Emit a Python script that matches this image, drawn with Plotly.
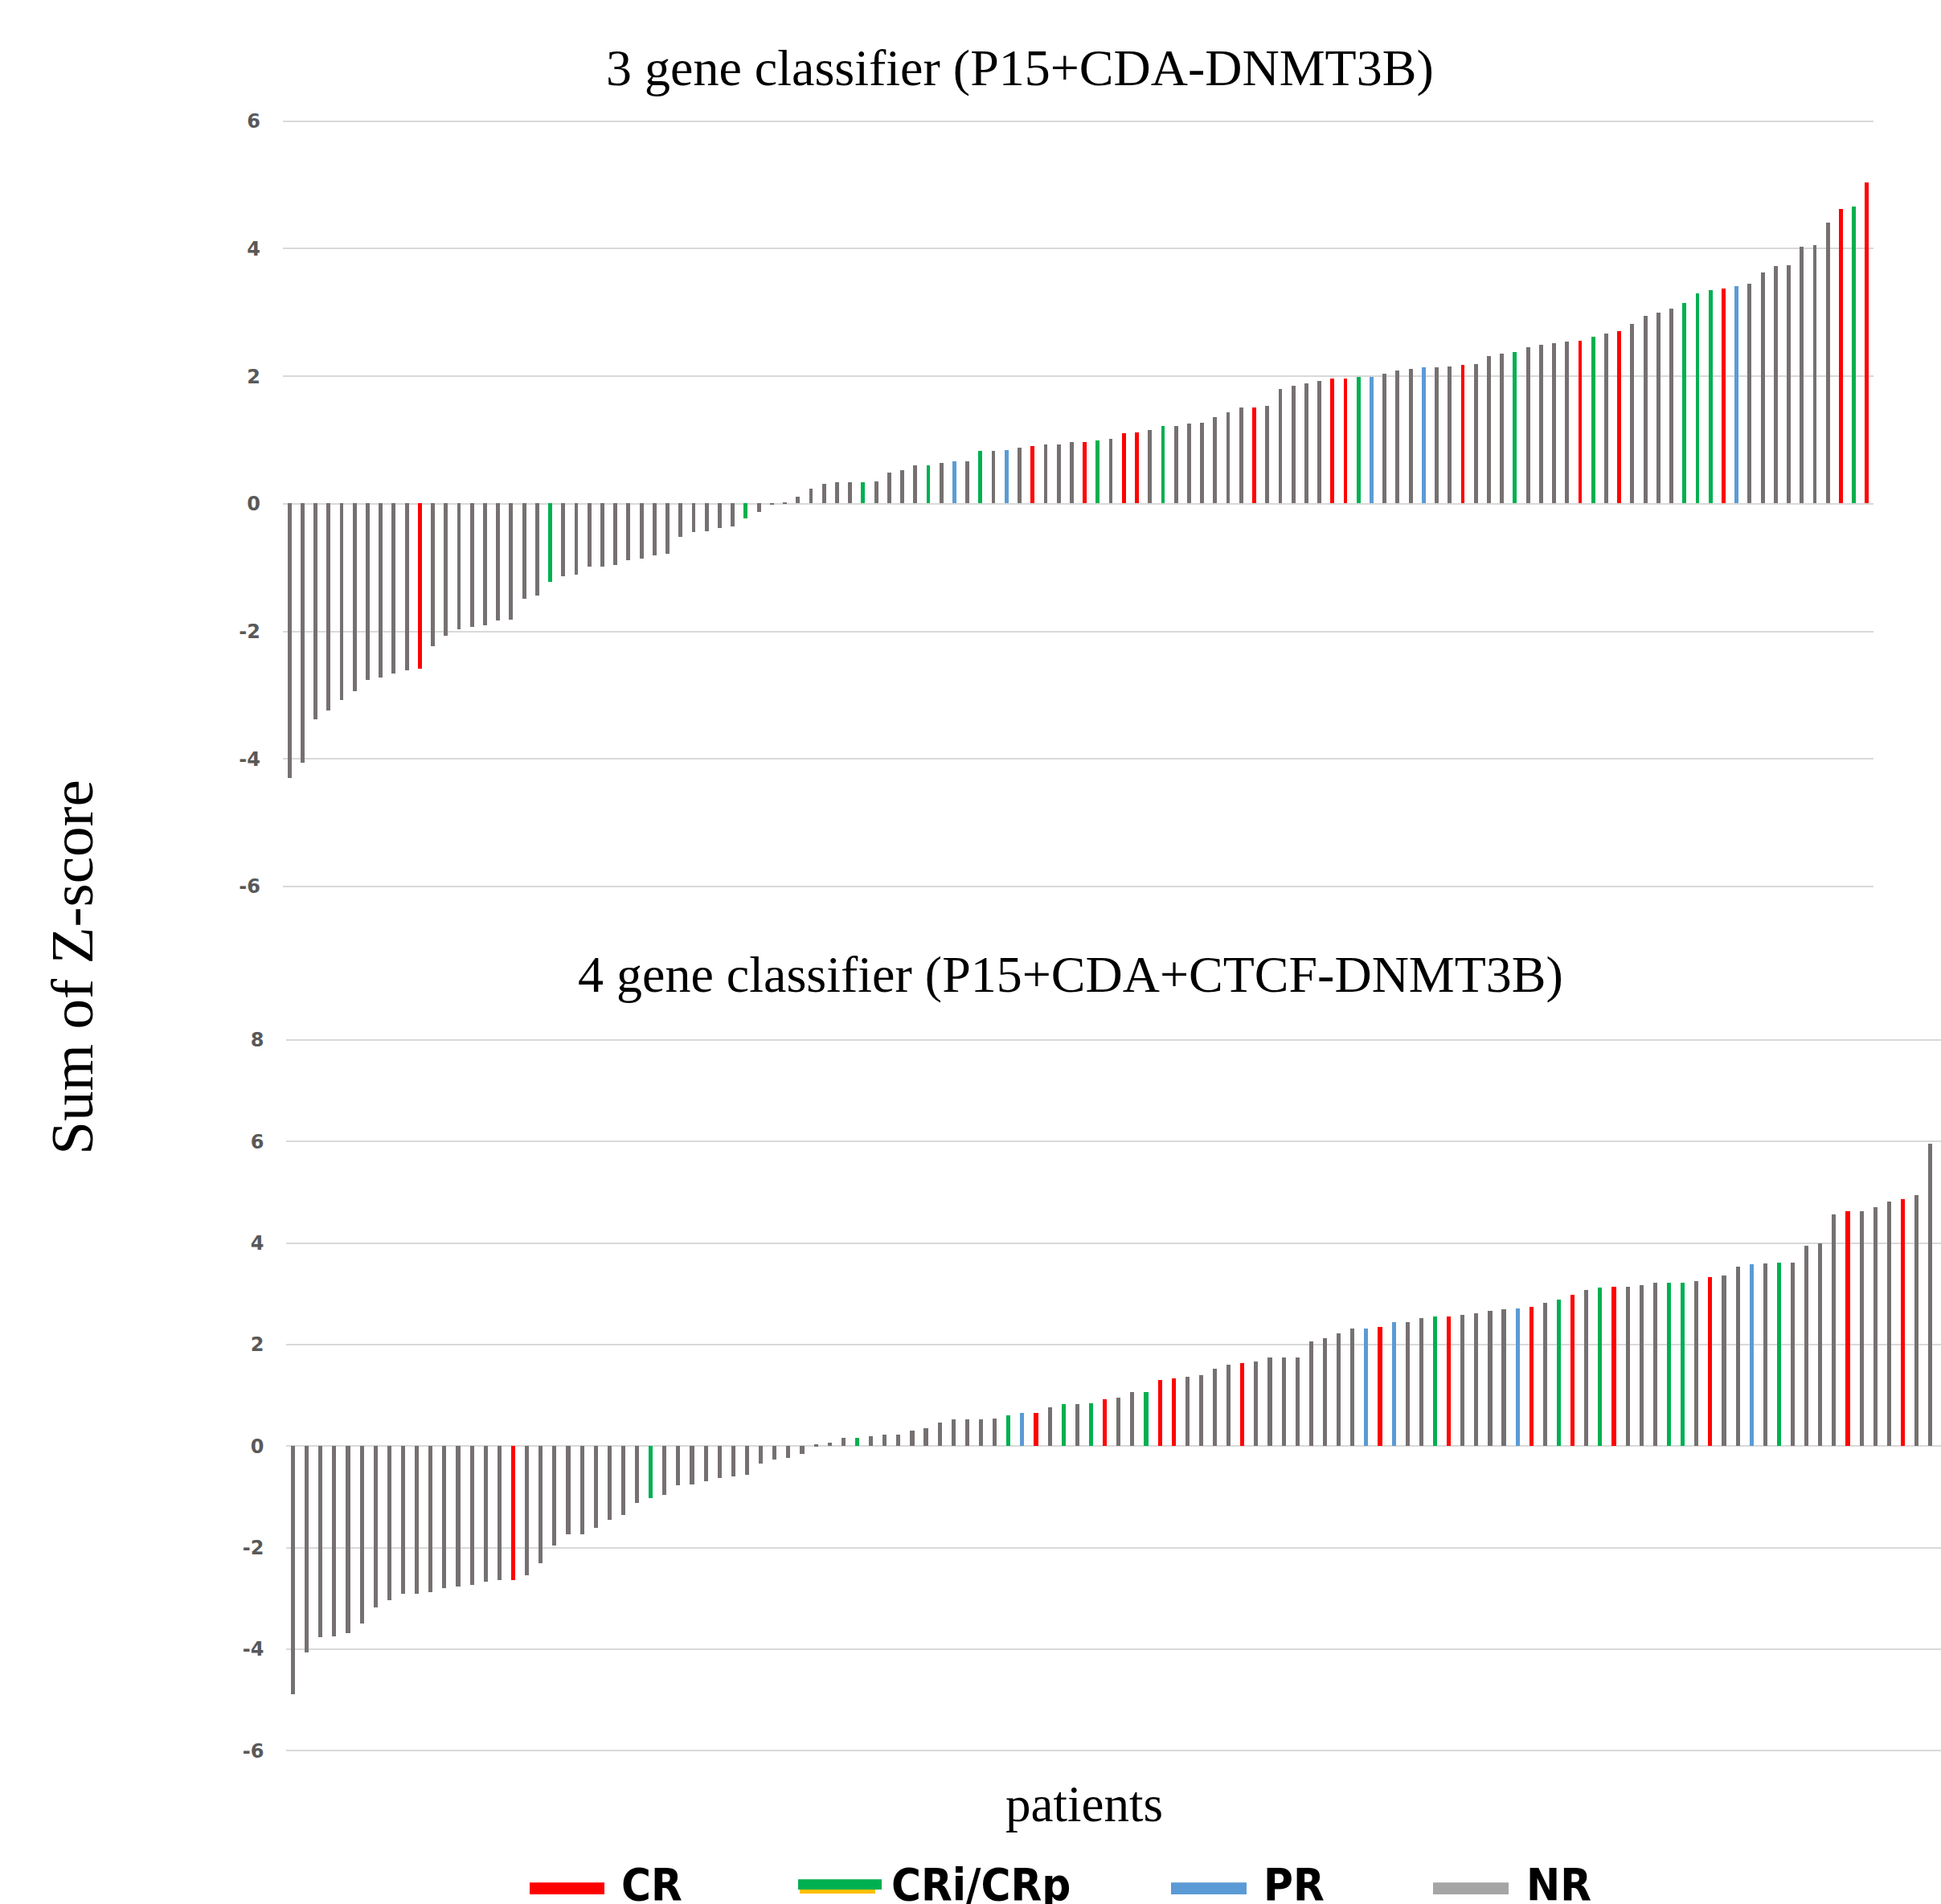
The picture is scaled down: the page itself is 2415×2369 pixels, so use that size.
import plotly.graph_objects as go

# ---------------- data ----------------
top_values = [
    -4.30, -4.06, -3.38, -3.24, -3.08, -2.94, -2.77, -2.73, -2.67, -2.62,
    -2.59, -2.24, -2.08, -1.97, -1.94, -1.91, -1.84, -1.82, -1.50, -1.44,
    -1.23, -1.14, -1.12, -0.99, -0.99, -0.97, -0.89, -0.87, -0.81, -0.79,
    -0.52, -0.45, -0.43, -0.38, -0.36, -0.23, -0.13, -0.01, 0.02, 0.11,
    0.23, 0.31, 0.33, 0.33, 0.33, 0.35, 0.48, 0.52, 0.60, 0.60,
    0.64, 0.66, 0.66, 0.82, 0.82, 0.84, 0.87, 0.90, 0.92, 0.92,
    0.96, 0.96, 0.99, 1.02, 1.10, 1.12, 1.15, 1.21, 1.21, 1.25,
    1.27, 1.35, 1.43, 1.51, 1.51, 1.53, 1.79, 1.84, 1.88, 1.92,
    1.96, 1.96, 1.99, 1.99, 2.04, 2.09, 2.11, 2.13, 2.13, 2.15,
    2.17, 2.19, 2.31, 2.35, 2.38, 2.45, 2.49, 2.51, 2.54, 2.55,
    2.61, 2.66, 2.70, 2.82, 2.94, 2.99, 3.06, 3.15, 3.30, 3.35,
    3.37, 3.41, 3.45, 3.62, 3.72, 3.74, 4.03, 4.05, 4.40, 4.62,
    4.66, 5.03,
]
top_status = (
    ["NR"] * 10 + ["CR"] + ["NR"] * 9 + ["CRi"] + ["NR"] * 14 + ["CRi"]
    + ["NR"] * 8 + ["CRi"] + ["NR"] * 4 + ["CRi"] + ["NR"] + ["PR"] + ["NR"]
    + ["CRi"] + ["NR"] + ["PR"] + ["NR"] + ["CR"] + ["NR"] * 3 + ["CR"] + ["CRi"]
    + ["NR"] + ["CR", "CR"] + ["NR"] + ["CRi"] + ["NR"] * 6 + ["CR"] + ["NR"] * 5
    + ["CR", "CR", "CRi", "PR"] + ["NR"] * 3 + ["PR"] + ["NR"] * 2 + ["CR"]
    + ["NR"] * 3 + ["CRi"] + ["NR"] * 4 + ["CR", "CRi", "NR", "CR"] + ["NR"] * 4
    + ["CRi", "CRi", "CRi", "CR", "PR"] + ["NR"] * 7 + ["CR", "CRi", "CR"]
)

bottom_values = [
    -4.88, -4.07, -3.77, -3.75, -3.69, -3.50, -3.17, -3.04, -2.91, -2.91,
    -2.88, -2.80, -2.77, -2.74, -2.67, -2.64, -2.64, -2.55, -2.31, -1.96,
    -1.74, -1.74, -1.61, -1.45, -1.36, -1.12, -1.02, -0.96, -0.77, -0.75,
    -0.69, -0.63, -0.60, -0.56, -0.34, -0.26, -0.23, -0.15, 0.03, 0.06,
    0.17, 0.17, 0.20, 0.23, 0.23, 0.31, 0.36, 0.47, 0.53, 0.53,
    0.53, 0.55, 0.60, 0.65, 0.65, 0.77, 0.82, 0.82, 0.85, 0.92,
    0.96, 1.06, 1.06, 1.31, 1.33, 1.36, 1.39, 1.53, 1.60, 1.63,
    1.66, 1.74, 1.74, 1.74, 2.07, 2.12, 2.22, 2.31, 2.31, 2.34,
    2.44, 2.44, 2.52, 2.55, 2.55, 2.58, 2.61, 2.66, 2.69, 2.71,
    2.74, 2.82, 2.88, 2.98, 3.07, 3.12, 3.14, 3.14, 3.17, 3.22,
    3.22, 3.22, 3.25, 3.33, 3.36, 3.53, 3.58, 3.60, 3.62, 3.62,
    3.95, 4.00, 4.57, 4.63, 4.63, 4.71, 4.81, 4.87, 4.95, 5.95,
]
bottom_status = (
    ["NR"] * 16 + ["CR"] + ["NR"] * 9 + ["CRi"] + ["NR"] * 14 + ["CRi"]
    + ["NR"] * 10 + ["CRi", "PR", "CR", "NR", "CRi", "NR", "CRi", "CR"]
    + ["NR"] * 2 + ["CRi", "CR", "CR"] + ["NR"] * 4 + ["CR"] + ["NR"] * 8
    + ["PR", "CR", "PR"] + ["NR"] * 2 + ["CRi", "CR"] + ["NR"] * 4
    + ["PR", "CR", "NR", "CRi", "CR", "NR", "CRi", "CR"] + ["NR"] * 3
    + ["CRi", "CRi", "NR", "CR", "NR", "NR", "PR", "NR", "CRi"] + ["NR"] * 4
    + ["CR"] + ["NR"] * 3 + ["CR"] + ["NR"] * 2
)

status_colors = {"CR": "#FF0000", "CRi": "#00B050", "PR": "#5B9BD5", "NR": "#767171"}
legend_labels = ["CR", "CRi/CRp", "PR", "NR"]
legend_colors = ["#FF0000", "#00B050", "#5B9BD5", "#A5A5A5"]

top_ticks = [-6, -4, -2, 0, 2, 4, 6]
bottom_ticks = [-6, -4, -2, 0, 2, 4, 6, 8]

top_title = "3 gene classifier (P15+CDA-DNMT3B)"
bottom_title = "4 gene classifier (P15+CDA+CTCF-DNMT3B)"

# ---------------- figure ----------------
W, H = 2415, 2369


def px(x):
    return x / W


def py(y):
    return 1 - y / H


fig = go.Figure()
fig.add_trace(go.Bar(
    x=list(range(len(top_values))), y=top_values,
    marker=dict(color=[status_colors[s] for s in top_status], line=dict(width=0)),
    width=0.3, xaxis="x", yaxis="y", showlegend=False,
))
fig.add_trace(go.Bar(
    x=list(range(len(bottom_values))), y=bottom_values,
    marker=dict(color=[status_colors[s] for s in bottom_status], line=dict(width=0)),
    width=0.3, xaxis="x2", yaxis="y2", showlegend=False,
))

tickfont = dict(family="DejaVu Sans", size=24, color="#595959", weight="bold")
grid = dict(showgrid=True, gridcolor="#D9D9D9", gridwidth=2, zeroline=True,
            zerolinecolor="#D9D9D9", zerolinewidth=2, showline=False, ticks="",
            tickfont=tickfont, ticklabelstandoff=27)

fig.update_layout(
    width=W, height=H,
    margin=dict(l=0, r=0, t=0, b=0),
    paper_bgcolor="white", plot_bgcolor="white",
    bargap=0,
    xaxis=dict(domain=[px(352), px(2331)], range=[-0.5, len(top_values) - 0.5],
               showticklabels=False, showgrid=False, zeroline=False, anchor="y"),
    yaxis=dict(domain=[py(1104.5), py(137.8)], range=[-6.03, 6.03],
               tickvals=top_ticks, ticktext=[str(v) for v in top_ticks],
               anchor="x", **grid),
    xaxis2=dict(domain=[px(356.4), 1.0], range=[-0.5, 119.75],
                showticklabels=False, showgrid=False, zeroline=False, anchor="y2"),
    yaxis2=dict(domain=[py(2190.5), py(1293.2)], range=[-6.03, 8.03],
                tickvals=bottom_ticks, ticktext=[str(v) for v in bottom_ticks],
                anchor="x2", **grid),
)

serif = "Liberation Serif, Times New Roman, serif"
ann = [
    dict(text=top_title, x=px(1269), y=py(73), size=64),
    dict(text=bottom_title, x=px(1332), y=py(1213), size=64),
    dict(text="patients", x=px(1349), y=py(2256), size=63),
]
for a in ann:
    fig.add_annotation(text=a["text"], x=a["x"], y=a["y"], xref="paper", yref="paper",
                       showarrow=False, xanchor="center", yanchor="middle",
                       font=dict(family=serif, size=a["size"], color="black"))
fig.add_annotation(text="Sum of Z-score", x=px(90), y=py(1204), xref="paper", yref="paper",
                   showarrow=False, textangle=-90, xanchor="center", yanchor="middle",
                   font=dict(family=serif, size=75, color="black"))

# legend (manual)
sw_x = [(659, 752), (993, 1097), (1457, 1551), (1783, 1877)]
txt_x = [771, 1107, 1570, 1897]
for (x0, x1), tx, lab, col in zip(sw_x, txt_x, legend_labels, legend_colors):
    if lab == "CRi/CRp":
        fig.add_shape(type="rect", xref="paper", yref="paper", x0=px(x0 + 2), x1=px(x1 - 8),
                      y0=py(2368), y1=py(2361), fillcolor="#FFC000", line=dict(width=0))
        fig.add_shape(type="rect", xref="paper", yref="paper", x0=px(x0), x1=px(x1),
                      y0=py(2363), y1=py(2350), fillcolor=col, line=dict(width=0))
    else:
        fig.add_shape(type="rect", xref="paper", yref="paper", x0=px(x0), x1=px(x1),
                      y0=py(2369), y1=py(2354), fillcolor=col, line=dict(width=0))
    fig.add_annotation(text=lab, x=px(tx), y=py(2322), xref="paper", yref="paper",
                       showarrow=False, xanchor="left", yanchor="top",
                       font=dict(family="DejaVu Sans Condensed, Liberation Sans Narrow, Liberation Sans",
                                 size=56, color="black", weight="bold"))

fig.write_html("out.html", config={"displayModeBar": False},
               post_script="document.body.style.margin='0';document.body.style.overflow='hidden';")
